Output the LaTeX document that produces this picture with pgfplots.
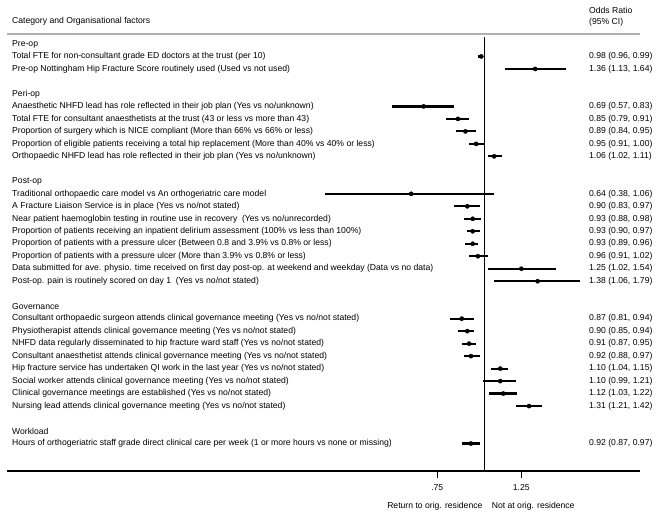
\documentclass[border=0pt]{standalone}
\usepackage{fontspec}
\setmainfont{Liberation Sans}
\usepackage{pgfplots}
\pgfplotsset{compat=1.18}
\definecolor{hdrline}{RGB}{176,176,176}

\pgfplotsset{every axis/.append style={
  at={(0,0)}, anchor=south west, scale only axis,
  width=633bp, height=437bp,
  xmode=log, xmin=0.0548, xmax=2.572,
  ymin=-34.2, ymax=0.8, clip=false,
  ytick={0,-1,-2,-4,-5,-6,-7,-8,-9,-11,-12,-13,-14,-15,-16,-17,-18,-19,-21,-22,-23,-24,-25,-26,-27,-28,-29,-31,-32},
}}

\begin{document}
\begin{tikzpicture}[font=\fontsize{8.65}{10}\selectfont]
\useasboundingbox (-7bp,-42bp) rectangle (662bp,471bp);

% left column, CIs and axis
\begin{axis}[
  axis x line*=bottom, axis y line*=left,
  x axis line style={-, black, line width=1.4bp},
  y axis line style={draw=none},
  tick align=outside, major tick length=7bp,
  xtick={0.75,1.25}, xticklabels={.75,1.25}, minor xtick={},
  xtick style={black, line width=1.4bp},
  xticklabel style={yshift=-3bp},
  ytick style={draw=none},
  yticklabel style={anchor=west, inner sep=0pt, xshift=12bp},
  yticklabels={
    {Pre-op},
    {Total FTE for non-consultant grade ED doctors at the trust (per 10)},
    {Pre-op Nottingham Hip Fracture Score routinely used (Used vs not used)},
    {Peri-op},
    {Anaesthetic NHFD lead has role reflected in their job plan (Yes vs no/unknown)},
    {Total FTE for consultant anaesthetists at the trust (43 or less vs more than 43)},
    {Proportion of surgery which is NICE compliant (More than 66\% vs 66\% or less)},
    {Proportion of eligible patients receiving a total hip replacement (More than 40\% vs 40\% or less)},
    {Orthopaedic NHFD lead has role reflected in their job plan (Yes vs no/unknown)},
    {Post-op},
    {Traditional orthopaedic care model vs An orthogeriatric care model},
    {A Fracture Liaison Service is in place (Yes vs no/not stated)},
    {Near patient haemoglobin testing in routine use in recovery \ (Yes vs no/unrecorded)},
    {Proportion of patients receiving an inpatient delirium assessment (100\% vs less than 100\%)},
    {Proportion of patients with a pressure ulcer (Between 0.8 and 3.9\% vs 0.8\% or less)},
    {Proportion of patients with a pressure ulcer (More than 3.9\% vs 0.8\% or less)},
    {Data submitted for ave. physio. time received on first day post-op. at weekend and weekday (Data vs no data)},
    {Post-op. pain is routinely scored on day 1 \ (Yes vs no/not stated)},
    {Governance},
    {Consultant orthopaedic surgeon attends clinical governance meeting (Yes vs no/not stated)},
    {Physiotherapist attends clinical governance meeting (Yes vs no/not stated)},
    {NHFD data regularly disseminated to hip fracture ward staff (Yes vs no/not stated)},
    {Consultant anaesthetist attends clinical governance meeting (Yes vs no/not stated)},
    {Hip fracture service has undertaken QI work in the last year (Yes vs no/not stated)},
    {Social worker attends clinical governance meeting (Yes vs no/not stated)},
    {Clinical governance meetings are established (Yes vs no/not stated)},
    {Nursing lead attends clinical governance meeting (Yes vs no/not stated)},
    {Workload},
    {Hours of orthogeriatric staff grade direct clinical care per week (1 or more hours vs none or missing)}
  },
]
\draw[hdrline, line width=1.4bp] (axis cs:0.0548,0.8) -- (axis cs:2.572,0.8);
\draw[black, line width=1.3bp] (axis cs:1,0.55) -- (axis cs:1,-34.2);
% tick marks as small filled boxes under the axis line
\node[anchor=north, fill=black, inner sep=0pt, minimum width=1.4bp, minimum height=7bp] at (axis cs:0.75,-34.2) {};
\node[anchor=north, fill=black, inner sep=0pt, minimum width=1.4bp, minimum height=7bp] at (axis cs:1.25,-34.2) {};

\addplot[black, only marks, mark=*, mark size=2.1bp,
  error bars/.cd, x dir=both, x explicit, error mark=none,
  error bar style={line width=2.2bp}]
  coordinates {
    (0.98,-1)  -= (0.02,0) += (0.01,0)
    (1.36,-2)  -= (0.23,0) += (0.28,0)
    (0.69,-5)  -= (0.12,0) += (0.14,0)
    (0.85,-6)  -= (0.06,0) += (0.06,0)
    (0.89,-7)  -= (0.05,0) += (0.06,0)
    (0.95,-8)  -= (0.04,0) += (0.05,0)
    (1.06,-9)  -= (0.04,0) += (0.05,0)
    (0.64,-12) -= (0.26,0) += (0.42,0)
    (0.90,-13) -= (0.07,0) += (0.07,0)
    (0.93,-14) -= (0.05,0) += (0.05,0)
    (0.93,-15) -= (0.03,0) += (0.04,0)
    (0.93,-16) -= (0.04,0) += (0.03,0)
    (0.96,-17) -= (0.05,0) += (0.06,0)
    (1.25,-18) -= (0.23,0) += (0.29,0)
    (1.38,-19) -= (0.32,0) += (0.41,0)
    (0.87,-22) -= (0.06,0) += (0.07,0)
    (0.90,-23) -= (0.05,0) += (0.04,0)
    (0.91,-24) -= (0.04,0) += (0.04,0)
    (0.92,-25) -= (0.04,0) += (0.05,0)
    (1.10,-26) -= (0.06,0) += (0.05,0)
    (1.10,-27) -= (0.11,0) += (0.11,0)
    (1.12,-28) -= (0.09,0) += (0.10,0)
    (1.31,-29) -= (0.10,0) += (0.11,0)
    (0.92,-32) -= (0.05,0) += (0.05,0)
  };

\node[anchor=west, inner sep=0pt] at (rel axis cs:0,1) [xshift=5bp, yshift=13bp] {Category and Organisational factors};
\node[anchor=west, inner sep=0pt] at (rel axis cs:1,1) [xshift=-51bp, yshift=24bp] {Odds Ratio};
\node[anchor=west, inner sep=0pt] at (rel axis cs:1,1) [xshift=-51bp, yshift=12bp] {(95\% CI)};
\node[anchor=east, inner sep=0pt] at (axis cs:1,-34.2) [xshift=-2bp, yshift=-35bp] {Return to orig. residence};
\node[anchor=west, inner sep=0pt] at (axis cs:1,-34.2) [xshift=7bp, yshift=-35bp] {Not at orig. residence};
\end{axis}

% right column: odds ratio text
\begin{axis}[
  axis line style={draw=none},
  xtick=\empty, major tick length=0pt,
  ytick style={draw=none}, yticklabel pos=right,
  yticklabel style={anchor=west, inner sep=0pt, xshift=-51bp},
  yticklabels={
    {}, {0.98 (0.96, 0.99)}, {1.36 (1.13, 1.64)},
    {}, {0.69 (0.57, 0.83)}, {0.85 (0.79, 0.91)}, {0.89 (0.84, 0.95)}, {0.95 (0.91, 1.00)}, {1.06 (1.02, 1.11)},
    {}, {0.64 (0.38, 1.06)}, {0.90 (0.83, 0.97)}, {0.93 (0.88, 0.98)}, {0.93 (0.90, 0.97)}, {0.93 (0.89, 0.96)}, {0.96 (0.91, 1.02)}, {1.25 (1.02, 1.54)}, {1.38 (1.06, 1.79)},
    {}, {0.87 (0.81, 0.94)}, {0.90 (0.85, 0.94)}, {0.91 (0.87, 0.95)}, {0.92 (0.88, 0.97)}, {1.10 (1.04, 1.15)}, {1.10 (0.99, 1.21)}, {1.12 (1.03, 1.22)}, {1.31 (1.21, 1.42)},
    {}, {0.92 (0.87, 0.97)}
  },
]
\addplot[draw=none, forget plot] coordinates {(1,-1)};
\end{axis}
\end{tikzpicture}
\end{document}
